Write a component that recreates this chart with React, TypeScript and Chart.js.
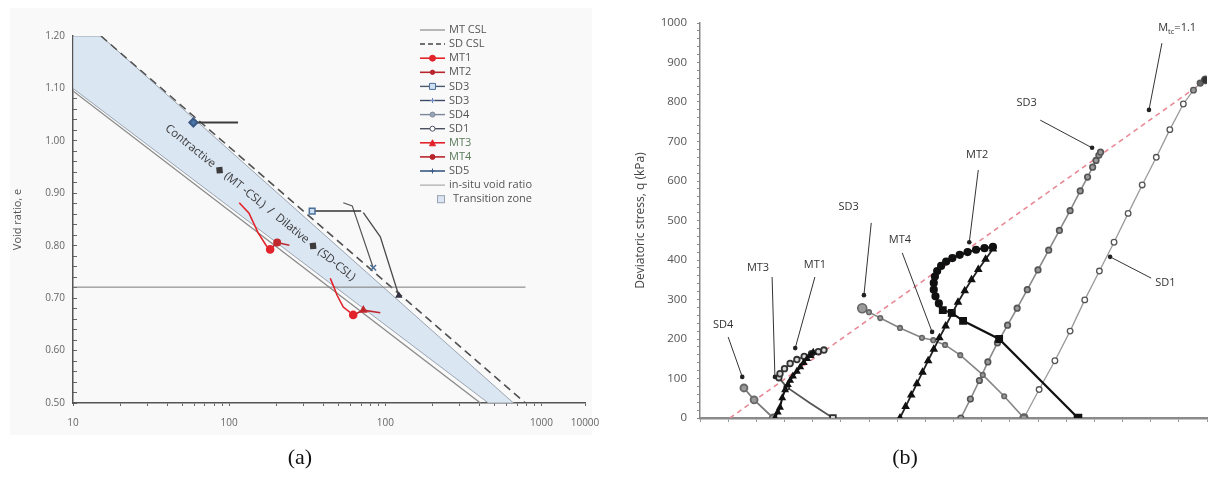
import React, { useEffect, useRef } from 'react';
import { Chart, registerables } from 'chart.js';
Chart.register(...registerables);

const FONT = "'Open Sans', 'Noto Sans', 'DejaVu Sans', sans-serif";

// ---------------- Panel (a): void ratio vs mean effective stress (log) ----------------
const A_X_TICKS = [10, 20, 30, 40, 50, 60, 70, 80, 90, 100, 200, 300, 400, 500, 600, 700, 800, 900,
  1000, 2000, 3000, 4000, 5000, 6000, 7000, 8000, 9000, 10000, 19000];
const A_X_LABELS: Record<number, string> = { 10: '10', 100: '100', 1000: '100', 10000: '1000', 19000: '10000' };
const A_Y_TICKS = [0.5, 0.52, 0.54, 0.56, 0.58, 0.6, 0.62, 0.64, 0.66, 0.68, 0.7, 0.72, 0.74, 0.76, 0.78,
  0.8, 0.82, 0.84, 0.86, 0.88, 0.9, 0.92, 0.94, 0.96, 0.98, 1.0, 1.02, 1.04, 1.06, 1.08, 1.1, 1.12,
  1.14, 1.16, 1.18, 1.2];

const ZONE_P = [10, 15.1, 6620, 4570, 10, 10];
const ZONE_E = [1.2, 1.2, 0.5, 0.5, 1.1, 1.2];
const MTCSL_P = [10, 4065];
const MTCSL_E = [1.095, 0.5];
const SDCSL_P = [15.1, 7890];
const SDCSL_E = [1.2, 0.5];
const INSITU_P = [10, 7900];
const INSITU_E = [0.721, 0.721];
const MT1_P = [116, 134, 153, 173, 183];
const MT1_E = [0.882, 0.862, 0.825, 0.8, 0.793];
const MT2_P = [183, 203, 243];
const MT2_E = [0.793, 0.806, 0.801];
const MT3_P = [444, 470, 492, 538, 623];
const MT3_E = [0.738, 0.72, 0.705, 0.683, 0.668];
const MT4_P = [623, 723, 929];
const MT4_E = [0.668, 0.677, 0.672];
const SD3A_P = [340, 700];
const SD3A_E = [0.866, 0.866];
const SD3B_P = [723, 929, 1220];
const SD3B_E = [0.863, 0.817, 0.705];
const SD4A_P = [538, 614, 837];
const SD4A_E = [0.882, 0.876, 0.758];
const SD5_P = [59, 114];
const SD5_E = [1.035, 1.035];

const A_LEGEND = ['MT CSL', 'SD CSL', 'MT1', 'MT2', 'SD3', 'SD3', 'SD4', 'SD1', 'MT3', 'MT4', 'SD5',
  'in-situ void ratio', 'Transition zone'];
const A_ZONE_TEXT = 'Contractive \u25C6 (MT -CSL)  /  Dilative \u25C6 (SD-CSL)';
const A_ZONE_TEXT_P = 158;
const A_ZONE_TEXT_E = 0.882;

// ---------------- Panel (b): q vs p' ----------------
const B_X_TICKS = [0, 50, 100, 150, 200, 250, 300, 350, 400, 450, 500, 550, 600, 650, 700, 750, 800, 850, 900];
const B_Y_TICKS = Array.from({ length: 51 }, (_, i) => i * 20);

const MLINE_P = [53, 897];
const MLINE_Q = [0, 854];
const B_SD4_P = [130, 96, 78];
const B_SD4_Q = [0, 46, 76];
const B_MT1_P = [236, 195, 154, 140, 142, 150, 160, 172, 185, 198, 210, 220];
const B_MT1_Q = [0, 38, 78, 102, 112, 125, 138, 148, 156, 163, 168, 172];
const B_MT3_P = [133, 138, 142, 146, 151, 156, 160, 165, 172, 178, 184, 190, 196, 201];
const B_MT3_Q = [0, 15, 27, 51, 71, 84, 95, 106, 118, 129, 140, 150, 158, 166];
const B_MT4_P = [355, 365, 375, 385, 395, 405, 415, 425, 436, 447, 458, 470, 482, 494, 507, 520];
const B_MT4_Q = [0, 29, 58, 87, 116, 145, 174, 203, 233, 263, 293, 322, 350, 376, 402, 428];
const B_MT2_P = [671, 531, 467, 447, 431, 424, 418, 415, 415, 417, 421, 428, 437, 448, 461, 475, 490, 505, 520];
const B_MT2_Q = [0, 200, 246, 266, 273, 290, 308, 325, 342, 358, 372, 385, 396, 405, 413, 420, 426, 430, 433];
const B_SD3L_P = [575, 540, 502, 462, 435, 414, 394, 355, 320, 300, 288];
const B_SD3L_Q = [0, 55, 109, 159, 185, 197, 203, 228, 253, 268, 278];
const B_SD3U_P = [463, 480, 496, 511, 528, 546, 563, 581, 600, 619, 638, 657, 675, 688, 697, 703, 708, 711];
const B_SD3U_Q = [0, 48, 95, 142, 190, 235, 278, 325, 375, 425, 475, 525, 575, 610, 635, 652, 665, 673];
const B_SD1_P = [575, 602, 630, 657, 683, 709, 735, 760, 785, 810, 834, 858, 876, 888, 897];
const B_SD1_Q = [0, 72, 145, 220, 299, 372, 445, 518, 590, 660, 730, 795, 830, 848, 856];

const B_LABELS = ['SD4', 'MT3', 'MT1', 'SD3', 'MT4', 'MT2', 'SD3', 'SD1'];
const B_LABEL_P = [41, 103, 204, 264, 355, 492, 580, 826];
const B_LABEL_Q = [235, 380, 387, 534, 450, 666, 797, 342];
const B_ARROW_FROM_P = [50, 128, 204, 304, 359, 494, 604, 801];
const B_ARROW_FROM_Q = [205, 357, 357, 494, 418, 628, 754, 354];
const B_ARROW_TO_P = [75, 133, 169, 291, 412, 478, 696, 728];
const B_ARROW_TO_Q = [104, 104, 177, 311, 218, 445, 684, 408];
const B_M_LABEL_P = 847;
const B_M_LABEL_Q = 987;
const B_M_ARROW = [820, 949, 797, 780];

const pts = (xs: number[], ys: number[]) => xs.map((x, i) => ({ x, y: ys[i] }));

const line = (data: any, color: string, width: number, extra: any = {}) => ({
  data, showLine: true, borderColor: color, borderWidth: width, pointRadius: 0,
  pointBackgroundColor: color, pointBorderColor: color, tension: 0, ...extra,
});

const legendA = {
  id: 'legendA',
  afterDraw(chart: any) {
    const ctx = chart.ctx;
    ctx.save();
    const x0 = 420, x1 = 445, xm = 432.5, xt = 449;
    const styles: any[] = [
      { c: '#8a8a8a', w: 1.2 },
      { c: '#444', w: 1.5, dash: [5, 3] },
      { c: '#e3232b', w: 1.6, m: 'circle', mf: '#e3232b', r: 3 },
      { c: '#b8262d', w: 1.6, m: 'circle', mf: '#b8262d', r: 2.2 },
      { c: '#4a5a70', w: 1.4, m: 'rect', mf: '#cfe0f0', mc: '#4a6f99', r: 3 },
      { c: '#3b4a66', w: 1.4, m: 'cross', mf: '#6a86c0', mc: '#6a86c0', r: 2.5 },
      { c: '#7b8699', w: 1.4, m: 'circle', mf: '#9aa6b8', r: 2.5 },
      { c: '#4a5060', w: 1.4, m: 'circle', mf: '#fff', mc: '#556', r: 2.5 },
      { c: '#e3232b', w: 1.6, m: 'triangle', mf: '#e3232b', r: 3 },
      { c: '#b8262d', w: 1.6, m: 'circle', mf: '#b8262d', r: 2.5 },
      { c: '#3a5a85', w: 1.6, m: 'cross', mf: '#3a5a85', mc: '#3a5a85', r: 2.5 },
      { c: '#999', w: 1 },
      { box: true },
    ];
    ctx.font = `11px ${FONT}`;
    ctx.textBaseline = 'middle';
    ctx.textAlign = 'left';
    A_LEGEND.forEach((label, i) => {
      const y = 30 + i * 14.1;
      const s = styles[i];
      if (s.box) {
        ctx.fillStyle = '#dbe6f3';
        ctx.strokeStyle = '#9aa4b0';
        ctx.lineWidth = 1;
        ctx.fillRect(437, y - 4, 8, 8);
        ctx.strokeRect(437.5, y - 3.5, 7, 7);
        ctx.fillStyle = '#555';
        ctx.fillText(label, 453, y);
        return;
      }
      ctx.strokeStyle = s.c;
      ctx.lineWidth = s.w;
      ctx.setLineDash(s.dash || []);
      ctx.beginPath();
      ctx.moveTo(x0, y);
      ctx.lineTo(x1, y);
      ctx.stroke();
      ctx.setLineDash([]);
      if (s.m) {
        ctx.fillStyle = s.mf;
        ctx.strokeStyle = s.mc || s.c;
        ctx.lineWidth = 1;
        ctx.beginPath();
        if (s.m === 'circle') ctx.arc(xm, y, s.r, 0, Math.PI * 2);
        else if (s.m === 'rect') ctx.rect(xm - s.r, y - s.r, s.r * 2, s.r * 2);
        else if (s.m === 'triangle') { ctx.moveTo(xm, y - s.r); ctx.lineTo(xm + s.r, y + s.r); ctx.lineTo(xm - s.r, y + s.r); ctx.closePath(); }
        else { ctx.moveTo(xm - s.r, y); ctx.lineTo(xm + s.r, y); ctx.moveTo(xm, y - s.r); ctx.lineTo(xm, y + s.r); }
        if (s.m !== 'cross') ctx.fill();
        ctx.stroke();
      }
      ctx.fillStyle = (label === 'MT3' || label === 'MT4') ? '#5a7a5a' : '#555';
      ctx.fillText(label, xt, y);
    });
    ctx.restore();
  },
};

const bgA = {
  id: 'bgA',
  beforeDraw(chart: any) {
    const ctx = chart.ctx;
    ctx.save();
    ctx.fillStyle = '#f9f9f9';
    ctx.fillRect(10, 8, 582, 427);
    ctx.restore();
  },
};

const zoneText = {
  id: 'zoneText',
  afterDatasetsDraw(chart: any) {
    const { ctx, scales } = chart;
    const cx = scales.x.getPixelForValue(A_ZONE_TEXT_P);
    const cy = scales.y.getPixelForValue(A_ZONE_TEXT_E);
    ctx.save();
    ctx.translate(cx, cy);
    ctx.rotate((39 * Math.PI) / 180);
    ctx.font = `11.5px ${FONT}`;
    ctx.fillStyle = '#3c3c3c';
    ctx.textAlign = 'center';
    ctx.textBaseline = 'middle';
    ctx.fillText(A_ZONE_TEXT, 0, 0);
    ctx.restore();
  },
};

const annB = {
  id: 'annB',
  afterDatasetsDraw(chart: any) {
    const { ctx, scales } = chart;
    const X = (v: number) => scales.x.getPixelForValue(v);
    const Y = (v: number) => scales.y.getPixelForValue(v);
    ctx.save();
    ctx.strokeStyle = '#333';
    ctx.fillStyle = '#222';
    ctx.lineWidth = 1;
    const arrow = (fx: number, fy: number, tx: number, ty: number) => {
      ctx.beginPath();
      ctx.moveTo(X(fx), Y(fy));
      ctx.lineTo(X(tx), Y(ty));
      ctx.stroke();
      ctx.beginPath();
      ctx.arc(X(tx), Y(ty), 2.3, 0, Math.PI * 2);
      ctx.fill();
    };
    B_LABELS.forEach((_, i) => arrow(B_ARROW_FROM_P[i], B_ARROW_FROM_Q[i], B_ARROW_TO_P[i], B_ARROW_TO_Q[i]));
    arrow(B_M_ARROW[0], B_M_ARROW[1], B_M_ARROW[2], B_M_ARROW[3]);
    ctx.font = `11px ${FONT}`;
    ctx.fillStyle = '#333';
    ctx.textAlign = 'center';
    ctx.textBaseline = 'middle';
    B_LABELS.forEach((t, i) => ctx.fillText(t, X(B_LABEL_P[i]), Y(B_LABEL_Q[i])));
    // M_tc = 1.1
    const mx = X(B_M_LABEL_P), my = Y(B_M_LABEL_Q);
    ctx.textAlign = 'left';
    ctx.font = `11px ${FONT}`;
    const w1 = ctx.measureText('M').width;
    ctx.font = `7.5px ${FONT}`;
    const w2 = ctx.measureText('tc').width;
    ctx.font = `11px ${FONT}`;
    const w3 = ctx.measureText('=1.1').width;
    let sx = mx - (w1 + w2 + w3) / 2;
    ctx.fillText('M', sx, my);
    sx += w1;
    ctx.font = `7.5px ${FONT}`;
    ctx.fillText('tc', sx, my + 4);
    sx += w2;
    ctx.font = `11px ${FONT}`;
    ctx.fillText('=1.1', sx, my);
    ctx.restore();
  },
};

export default function App() {
  const aRef = useRef<HTMLCanvasElement>(null);
  const bRef = useRef<HTMLCanvasElement>(null);

  useEffect(() => {
    document.body.style.margin = '0';
    Chart.defaults.font.family = FONT;

    const chartA = new Chart(aRef.current!, {
      type: 'scatter',
      data: {
        datasets: [
          line(pts(SD5_P, SD5_E), '#3c3c3c', 2, { pointRadius: [4, 0], pointStyle: 'rectRot', pointBackgroundColor: '#4a78a8', pointBorderColor: '#3a5a85', order: 1 }),
          line(pts(SD3A_P, SD3A_E), '#333', 1.5, { pointRadius: [4, 0], pointStyle: 'rect', pointBackgroundColor: '#cfe0f0', pointBorderColor: '#4a6f99', order: 1 }),
          line(pts(SD3B_P, SD3B_E), '#4a4a4a', 1.3, { pointRadius: [0, 0, 3], pointStyle: 'triangle', pointBackgroundColor: '#334', pointBorderColor: '#334', order: 1 }),
          line(pts(SD4A_P, SD4A_E), '#555', 1.2, { pointRadius: [0, 0, 4], pointStyle: 'crossRot', pointBorderColor: '#4a6f99', pointBorderWidth: 1.5, order: 1 }),
          line(pts(MT1_P, MT1_E), '#e3232b', 1.6, { pointRadius: [0, 0, 0, 0, 3.5], order: 1 }),
          line(pts(MT2_P, MT2_E), '#c0282e', 1.6, { pointRadius: [0, 3.2, 0], order: 1 }),
          line(pts(MT3_P, MT3_E), '#e3232b', 1.6, { pointRadius: [0, 0, 0, 0, 3.5], order: 1 }),
          line(pts(MT4_P, MT4_E), '#c0282e', 1.6, { pointRadius: [0, 3.5, 0], pointStyle: 'triangle', order: 1 }),
          line(pts(INSITU_P, INSITU_E), '#7a7a7a', 1, { order: 2 }),
          line(pts(SDCSL_P, SDCSL_E), '#505050', 1.6, { borderDash: [8, 5], order: 3 }),
          line(pts(MTCSL_P, MTCSL_E), '#8a8a8a', 1.3, { order: 3 }),
          line(pts(ZONE_P, ZONE_E), '#9aa4b0', 1, { fill: 'shape', backgroundColor: '#dbe6f3', order: 10 }),
        ],
      },
      options: {
        responsive: false,
        animation: false,
        devicePixelRatio: 1,
        layout: { padding: { left: 0, right: 30, top: 36, bottom: 0 } },
        plugins: { legend: { display: false }, tooltip: { enabled: false } },
        scales: {
          x: {
            type: 'logarithmic', min: 10, max: 19000,
            afterBuildTicks: (s: any) => { s.ticks = A_X_TICKS.map((v) => ({ value: v })); },
            afterFit: (s: any) => { s.height = 42; },
            ticks: {
              autoSkip: false, maxRotation: 0, minRotation: 0, padding: 11, color: '#666', font: { size: 10 },
              callback: (v: any) => A_X_LABELS[v as number] ?? '',
            },
            grid: { drawOnChartArea: false, drawTicks: true, tickLength: 3, color: '#666' },
            border: { color: '#555', width: 1.5 },
          },
          y: {
            type: 'linear', min: 0.5, max: 1.2,
            afterBuildTicks: (s: any) => { s.ticks = A_Y_TICKS.map((v) => ({ value: v })); },
            afterFit: (s: any) => { s.width = 73; },
            ticks: {
              autoSkip: false, padding: 12, color: '#666', font: { size: 10 },
              callback: (v: any) => (Math.round(v * 100) % 10 === 0 ? Number(v).toFixed(2) : ''),
            },
            grid: { drawOnChartArea: false, drawTicks: true, tickLength: -4, color: '#666' },
            border: { color: '#555', width: 1.5 },
            title: { display: true, text: 'Void ratio, e', color: '#555', font: { size: 11 }, padding: { top: 11, bottom: 0 } },
          },
        },
      } as any,
      plugins: [bgA, zoneText, legendA],
    });

    const circle = '#9a9a9a';
    const chartB = new Chart(bRef.current!, {
      type: 'scatter',
      data: {
        datasets: [
          line(pts(MLINE_P, MLINE_Q), '#e88a96', 1.6, { borderDash: [5, 4], order: 5 }),
          line(pts(B_SD4_P, B_SD4_Q), '#7a7a7a', 1.8, { pointRadius: 3.5, pointBackgroundColor: circle, pointBorderColor: '#666', order: 2 }),
          line(pts(B_MT1_P, B_MT1_Q), '#555', 1.8, {
            pointRadius: [4, 0, 2.5, 2.8, 2.8, 2.8, 2.8, 2.8, 2.8, 2.8, 2.8, 2.8],
            pointStyle: ['rect', 'circle', 'circle', 'circle', 'circle', 'circle', 'circle', 'circle', 'circle', 'circle', 'circle', 'circle'],
            pointBackgroundColor: '#d8d8d8', pointBorderColor: '#333', order: 2,
          }),
          line(pts(B_MT3_P, B_MT3_Q), '#111', 2, { pointRadius: 2.6, pointStyle: 'triangle', pointBackgroundColor: '#111', pointBorderColor: '#111', order: 1 }),
          line(pts(B_MT4_P, B_MT4_Q), '#222', 1.8, { pointRadius: 3.2, pointStyle: 'triangle', pointBackgroundColor: '#111', pointBorderColor: '#111', order: 1 }),
          line(pts(B_MT2_P, B_MT2_Q), '#111', 2.2, {
            pointRadius: [4.5, 4, 4, 4, 4, 3, 3, 3, 3, 3, 3, 3, 3, 3, 3, 3, 3, 3, 3],
            pointStyle: ['rect', 'rect', 'rect', 'rect', 'rect', 'circle', 'circle', 'circle', 'circle', 'circle', 'circle', 'circle', 'circle', 'circle', 'circle', 'circle', 'circle', 'circle', 'circle'],
            pointBackgroundColor: '#111', pointBorderColor: '#111', order: 1,
          }),
          line(pts(B_SD3L_P, B_SD3L_Q), '#858585', 1.6, {
            pointRadius: [4, 2.3, 2.3, 2.3, 2.3, 2.3, 2.3, 2.3, 2.3, 2.3, 4.5],
            pointStyle: ['rect', 'circle', 'circle', 'circle', 'circle', 'circle', 'circle', 'circle', 'circle', 'circle', 'circle'],
            pointBackgroundColor: circle, pointBorderColor: '#666', order: 3,
          }),
          line(pts(B_SD3U_P, B_SD3U_Q), '#8a8a8a', 1.6, {
            pointRadius: 2.8, pointBackgroundColor: circle, pointBorderColor: '#555', order: 3,
          }),
          line(pts(B_SD1_P, B_SD1_Q), '#9a9a9a', 1.3, {
            pointRadius: [4, 2.8, 2.8, 2.8, 2.8, 2.8, 2.8, 2.8, 2.8, 2.8, 2.8, 2.8, 2.8, 3, 3.8],
            pointBackgroundColor: ['#fff', '#fff', '#fff', '#fff', '#fff', '#fff', '#fff', '#fff', '#fff', '#fff', '#fff', '#fff', '#999', '#666', '#333'],
            pointBorderColor: '#555', order: 3,
          }),
        ],
      },
      options: {
        responsive: false,
        animation: false,
        devicePixelRatio: 1,
        layout: { padding: { left: 0, right: 13, top: 23, bottom: 0 } },
        plugins: { legend: { display: false }, tooltip: { enabled: false } },
        scales: {
          x: {
            type: 'linear', min: 0, max: 900,
            afterBuildTicks: (s: any) => { s.ticks = B_X_TICKS.map((v) => ({ value: v })); },
            afterFit: (s: any) => { s.height = 27; },
            ticks: { autoSkip: false, maxRotation: 0, callback: () => '' },
            grid: { drawOnChartArea: false, drawTicks: true, tickLength: 4, color: '#999' },
            border: { color: '#8a8a8a', width: 2.5 },
          },
          y: {
            type: 'linear', min: 0, max: 1000,
            afterBuildTicks: (s: any) => { s.ticks = B_Y_TICKS.map((v) => ({ value: v })); },
            afterFit: (s: any) => { s.width = 100; },
            ticks: {
              autoSkip: false, padding: 10, color: '#555', font: { size: 11.5 },
              callback: (v: any) => (v % 100 === 0 ? String(v) : ''),
            },
            grid: { drawOnChartArea: false, drawTicks: true, tickLength: 3, color: '#888' },
            border: { color: '#888', width: 1.5 },
            title: { display: true, text: 'Deviatoric stress, q (kPa)', color: '#444', font: { size: 12 }, padding: { top: 33, bottom: 0 } },
          },
        },
      } as any,
      plugins: [annB],
    });

    return () => {
      chartA.destroy();
      chartB.destroy();
    };
  }, []);

  const capStyle: React.CSSProperties = {
    position: 'absolute', top: 444, width: 60, textAlign: 'center',
    font: "22px 'Liberation Serif', 'Times New Roman', serif", lineHeight: '26px', color: '#111',
  };

  return (
    <div style={{ position: 'relative', width: 1220, height: 480, background: '#fff', overflow: 'hidden' }}>
      <canvas ref={aRef} width={615} height={445} style={{ position: 'absolute', left: 0, top: 0 }} />
      <canvas ref={bRef} width={620} height={445} style={{ position: 'absolute', left: 600, top: 0 }} />
      <div style={{ ...capStyle, left: 270 }}>(a)</div>
      <div style={{ ...capStyle, left: 875 }}>(b)</div>
    </div>
  );
}
